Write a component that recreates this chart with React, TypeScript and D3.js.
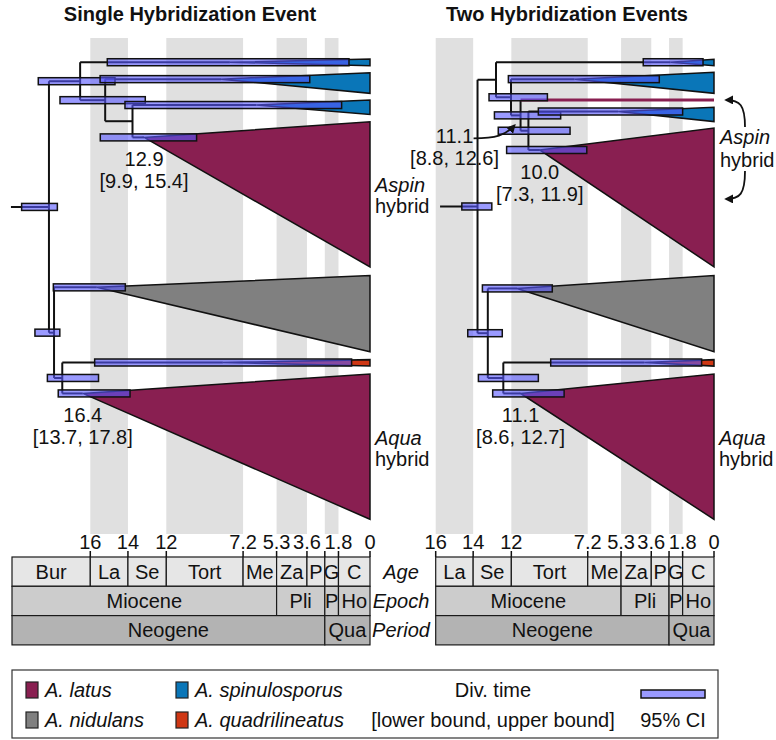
import React from 'react';
import * as d3 from 'd3';

const FONT = "'Liberation Sans', Arial, Helvetica, sans-serif";
const FS = 20;

const COLORS: Record<string, string> = { latus: '#891f51', spin: '#0a76b8', nid: '#808080', quad: '#cf3714' };
const CI_FILL = '#5757ff';

// geologic time scale (Ma)
const ageNames = ['Bur', 'La', 'Se', 'Tort', 'Me', 'Za', 'P', 'G', 'C'];
const ageBounds = [20.44, 15.97, 13.82, 11.63, 7.246, 5.333, 3.6, 2.58, 1.8, 0];
const epochNames = ['Miocene', 'Pli', 'P', 'Ho'];
const epochBounds = [20.44, 5.333, 2.58, 1.8, 0];
const periodNames = ['Neogene', 'Qua'];
const periodBounds = [20.44, 2.58, 0];
const shadedAges = ['La', 'Tort', 'Za', 'G'];
const tickTimes = [15.97, 13.82, 11.63, 7.246, 5.333, 3.6, 2.58, 1.8, 0];
const tickLabels = ['16', '14', '12', '7.2', '5.3', '3.6', '', '1.8', '0'];
const rowLabels = ['Age', 'Epoch', 'Period'];

// trees: internal nodes (t = age in Ma, ci = 95% interval)
const singleNodes = [
  { id: 'root', parent: null, t: 18.33, ci: [17.85, 19.89] },
  { id: 'a', parent: 'root', t: 16.55, ci: [14.56, 18.94] },
  { id: 'b', parent: 'a', t: 15.12, ci: [12.83, 17.7] },
  { id: 'c', parent: 'b', t: 13.56 },
  { id: 'd', parent: 'root', t: 18.04, ci: [17.71, 19.13] },
  { id: 'e', parent: 'd', t: 17.57, ci: [15.5, 18.42] },
];
// collapsed clades: crown age, ci, branch row and tip span (tree rows)
const singleClades = [
  { id: 's1', parent: 'a', sp: 'spin', t: 8.0, ci: [1.2, 15.0], y: 0.45, y0: 0, y1: 0.95 },
  { id: 's2', parent: 'b', sp: 'spin', t: 8.5, ci: [3.44, 15.41], y: 2.8, y0: 1.9, y1: 4.77 },
  { id: 's3', parent: 'c', sp: 'spin', t: 6.5, ci: [1.62, 13.99], y: 6.4, y0: 5.7, y1: 7.7 },
  { id: 'l1', parent: 'c', sp: 'latus', t: 12.9, ci: [9.9, 15.4], y: 10.9, y0: 8.72, y1: 28.9 },
  { id: 'n1', parent: 'd', sp: 'nid', t: 15.6, ci: [13.97, 18.08], y: 31.75, y0: 30.1, y1: 40.7 },
  { id: 'q1', parent: 'e', sp: 'quad', t: 8.4, ci: [1.05, 15.72], y: 42.2, y0: 41.8, y1: 42.7 },
  { id: 'l2', parent: 'e', sp: 'latus', t: 16.4, ci: [13.7, 17.8], y: 46.5, y0: 43.8, y1: 64 },
];

const doubleNodes = [
  { id: 'root', parent: null, t: 13.57, ci: [12.75, 14.47] },
  { id: 'a', parent: 'root', t: 12.51 },
  { id: 'b', parent: 'a', t: 11.65, ci: [9.56, 12.91] },
  { id: 'h', parent: 'b', t: 11.1, ci: [8.8, 12.6] },
  { id: 'c', parent: 'h', t: 10.65, ci: [8.26, 12.38] },
  { id: 'd', parent: 'root', t: 12.98, ci: [12.15, 14.13] },
  { id: 'e', parent: 'd', t: 12.09, ci: [10.08, 13.52] },
];
const doubleClades = [
  { id: 's1', parent: 'a', sp: 'spin', t: 2.5, ci: [0.63, 4.06], y: 0.45, y0: 0.04, y1: 0.93 },
  { id: 's2', parent: 'b', sp: 'spin', t: 8.0, ci: [3.14, 11.8], y: 2.8, y0: 1.85, y1: 4.77 },
  { id: 'lx', parent: 'h', sp: 'latus', t: 0, y: 5.7, lineage: true },
  { id: 's3', parent: 'c', sp: 'spin', t: 5.5, ci: [1.8, 10.08], y: 7.3, y0: 6.7, y1: 8.7 },
  { id: 'l1', parent: 'c', sp: 'latus', t: 10.0, ci: [7.3, 11.9], y: 12.65, y0: 9.6, y1: 28.9 },
  { id: 'n1', parent: 'd', sp: 'nid', t: 11.3, ci: [9.28, 13.29], y: 31.9, y0: 30.1, y1: 40.7 },
  { id: 'q1', parent: 'e', sp: 'quad', t: 4.0, ci: [0.71, 9.37], y: 42.2, y0: 41.8, y1: 42.7 },
  { id: 'l2', parent: 'e', sp: 'latus', t: 11.1, ci: [8.6, 12.7], y: 46.5, y0: 43.8, y1: 64 },
];

const legendSpecies = [
  { sp: 'latus', name: 'A. latus' },
  { sp: 'nid', name: 'A. nidulans' },
  { sp: 'spin', name: 'A. spinulosporus' },
  { sp: 'quad', name: 'A. quadrilineatus' },
];

const panels = [
  {
    key: 'single', title: 'Single Hybridization Event', titleX: 190,
    tMax: 20.44, x0: 12, x1: 370, stemT: 20.5,
    nodes: singleNodes, clades: singleClades,
    divLabels: ['l1', 'l2'], hybridLabels: [['l1', 'Aspin'], ['l2', 'Aqua']],
  },
  {
    key: 'double', title: 'Two Hybridization Events', titleX: 567,
    tMax: 15.97, x0: 435.7, x1: 714, stemT: 15.72,
    nodes: doubleNodes, clades: doubleClades,
    divLabels: ['l1', 'l2'], hybridLabels: [['l2', 'Aqua']],
  },
];

const BAR_H = 7;
const AGE_TOP = 557;
const ROW_H = 29.3;
const rowFills = ['#e6e6e6', '#cccccc', '#b3b3b3'];

function Panel({ p }: { p: any }) {
  const x = d3.scaleLinear().domain([p.tMax, 0]).range([p.x0, p.x1]);
  const y = d3.scaleLinear().domain([0, 64]).range([59, 519.3]);
  const all: any[] = [...p.nodes, ...p.clades];
  const byId = new Map(all.map((d) => [d.id, d]));
  const kids = d3.group(all, (d) => d.parent);
  const rowOf = new Map<string, number>();
  const getRow = (id: string): number => {
    if (rowOf.has(id)) return rowOf.get(id)!;
    const d: any = byId.get(id);
    let v: number;
    if (d.y !== undefined) v = d.y;
    else {
      const ys = kids.get(id)!.map((c: any) => getRow(c.id));
      v = ((d3.min(ys) as number) + (d3.max(ys) as number)) / 2;
    }
    rowOf.set(id, v);
    return v;
  };
  all.forEach((d) => getRow(d.id));
  const Y = (id: string) => y(getRow(id));
  const root = p.nodes.find((d: any) => d.parent === null);

  const seg = (names: string[], bounds: number[], top: number, fill: string, k: string) =>
    names.map((n, i) => {
      const a = Math.min(bounds[i], p.tMax);
      const b = bounds[i + 1];
      if (b >= p.tMax) return null;
      return (
        <g key={k + i}>
          <rect x={x(a)} y={top} width={x(b) - x(a)} height={ROW_H} fill={fill} stroke="#1a1a1a" strokeWidth={1.2} />
          <text x={(x(a) + x(b)) / 2} y={top + ROW_H / 2 + 7} textAnchor="middle">{n}</text>
        </g>
      );
    });

  const h = p.nodes.find((d: any) => d.id === 'h');

  return (
    <g>
      {/* shaded ages */}
      {shadedAges.map((n) => {
        const i = ageNames.indexOf(n);
        const a = Math.min(ageBounds[i], p.tMax);
        return <rect key={n} x={x(a)} y={38} width={x(ageBounds[i + 1]) - x(a)} height={496} fill="#e0e0e0" />;
      })}

      <text x={p.titleX} y={21} textAnchor="middle" fontWeight="bold">{p.title}</text>

      {/* branches */}
      <g stroke="#111" strokeWidth={2} fill="none">
        <line x1={x(p.stemT)} x2={x(root.t)} y1={Y(root.id)} y2={Y(root.id)} />
        {all.filter((d) => d.parent && !d.lineage).map((d) => (
          <line key={'h' + d.id} x1={x(byId.get(d.parent).t)} x2={x(d.t)} y1={Y(d.id)} y2={Y(d.id)} />
        ))}
        {p.nodes.map((n: any) => {
          const ys = kids.get(n.id)!.map((c: any) => Y(c.id));
          return <line key={'v' + n.id} x1={x(n.t)} x2={x(n.t)} y1={d3.min(ys)} y2={d3.max(ys)} />;
        })}
      </g>

      {/* collapsed clades */}
      {p.clades.map((c: any) =>
        c.lineage ? (
          <line key={'t' + c.id} x1={x(byId.get(c.parent).t)} x2={x(0)} y1={Y(c.id)} y2={Y(c.id)} stroke={COLORS[c.sp]} strokeWidth={3} />
        ) : (
          <polygon
            key={'t' + c.id}
            points={[[x(c.t), Y(c.id)], [x(0), y(c.y0)], [x(0), y(c.y1)]].map((q) => q.join(',')).join(' ')}
            fill={COLORS[c.sp]}
            stroke="#111"
            strokeWidth={1.5}
          />
        )
      )}

      {/* 95% CI bars */}
      {all.filter((d) => d.ci).map((d) => (
        <rect
          key={'ci' + d.id}
          x={x(d.ci[1])}
          y={Y(d.id) - BAR_H / 2}
          width={x(d.ci[0]) - x(d.ci[1])}
          height={BAR_H}
          fill={CI_FILL}
          fillOpacity={0.6}
          stroke="#111"
          strokeWidth={1.5}
        />
      ))}

      {/* divergence times */}
      {p.divLabels.map((id: string) => {
        const d: any = byId.get(id);
        return (
          <g key={'dl' + id}>
            <text x={x(d.t)} y={Y(id) + 29} textAnchor="middle">{d.t.toFixed(1)}</text>
            <text x={x(d.t)} y={Y(id) + 51} textAnchor="middle">{`[${d.ci[0].toFixed(1)}, ${d.ci[1].toFixed(1)}]`}</text>
          </g>
        );
      })}

      {p.hybridLabels.map(([id, name]: [string, string]) => {
        const d: any = byId.get(id);
        const mid = (y(d.y0) + y(d.y1)) / 2;
        return (
          <g key={'hl' + id}>
            <text x={x(0) + 5} y={mid - 2} fontStyle="italic">{name}</text>
            <text x={x(0) + 5} y={mid + 19}>hybrid</text>
          </g>
        );
      })}

      {h && (
        <g>
          <text x={x(h.t) - 66} y={Y('h') + 28} textAnchor="middle">{h.t.toFixed(1)}</text>
          <text x={x(h.t) - 66} y={Y('h') + 50} textAnchor="middle">{`[${h.ci[0].toFixed(1)}, ${h.ci[1].toFixed(1)}]`}</text>
          <path
            d={`M${x(h.t) - 47},${Y('h') + 23} C${x(h.t) - 25},${Y('h') + 23} ${x(h.t) - 15},${Y('h') + 20} ${x(h.t) - 6},${Y('h') + 10}`}
            fill="none" stroke="#111" strokeWidth={1.8} markerEnd="url(#arrowhead)"
          />
          <text x={x(0) + 6} y={Y('lx') + 44} fontStyle="italic">Aspin</text>
          <text x={x(0) + 6} y={Y('lx') + 67}>hybrid</text>
          <path d={`M${x(0) + 31},${Y('lx') + 27} C${x(0) + 31},${Y('lx') + 5} ${x(0) + 26},${Y('lx')} ${x(0) + 12},${Y('lx')}`} fill="none" stroke="#111" strokeWidth={1.8} markerEnd="url(#arrowhead)" />
          <path d={`M${x(0) + 31},${Y('lx') + 71} C${x(0) + 31},${Y('lx') + 94} ${x(0) + 26},${Y('lx') + 99} ${x(0) + 12},${Y('lx') + 99}`} fill="none" stroke="#111" strokeWidth={1.8} markerEnd="url(#arrowhead)" />
        </g>
      )}

      {/* time scale */}
      {tickTimes.filter((t) => t <= p.tMax).map((t, i) => (
        <g key={'tk' + i}>
          <line x1={x(t)} x2={x(t)} y1={551} y2={AGE_TOP} stroke="#111" strokeWidth={1.5} />
          <text x={x(t)} y={549} textAnchor="middle">{tickLabels[tickTimes.indexOf(t)]}</text>
        </g>
      ))}
      {seg(ageNames, ageBounds, AGE_TOP, rowFills[0], 'age')}
      {seg(epochNames, epochBounds, AGE_TOP + ROW_H, rowFills[1], 'ep')}
      {seg(periodNames, periodBounds, AGE_TOP + 2 * ROW_H, rowFills[2], 'pe')}
    </g>
  );
}

export default function App() {
  return (
    <svg
      width={776}
      height={740}
      style={{ position: 'fixed', left: 0, top: 0, background: '#fff' }}
      fontFamily={FONT}
      fontSize={FS}
      fill="#111"
    >
      <defs>
        <marker id="arrowhead" viewBox="0 0 10 10" refX="8" refY="5" markerWidth="5" markerHeight="5" orient="auto">
          <path d="M0,0 L10,5 L0,10 z" fill="#111" />
        </marker>
      </defs>
      {panels.map((p) => <Panel key={p.key} p={p} />)}

      {rowLabels.map((r, i) => (
        <text key={r} x={401} y={AGE_TOP + i * ROW_H + ROW_H / 2 + 7} textAnchor="middle" fontStyle="italic">{r}</text>
      ))}

      {/* legend */}
      <rect x={12} y={670} width={706} height={68} fill="#fff" stroke="#333" strokeWidth={1.2} />
      {legendSpecies.map((s, i) => {
        const lx = i < 2 ? 26 : 176;
        const ly = i % 2 === 0 ? 682 : 712;
        return (
          <g key={s.sp}>
            <rect x={lx} y={ly} width={12} height={16} fill={COLORS[s.sp]} stroke="#222" strokeWidth={1.2} />
            <text x={lx + 19} y={ly + 15} fontStyle="italic">{s.name}</text>
          </g>
        );
      })}
      <text x={493} y={697} textAnchor="middle">Div. time</text>
      <text x={493} y={727} textAnchor="middle">[lower bound, upper bound]</text>
      <rect x={641} y={690} width={64} height={8} fill={CI_FILL} fillOpacity={0.6} stroke="#111" strokeWidth={1.5} />
      <text x={673} y={727} textAnchor="middle">95% CI</text>
    </svg>
  );
}
